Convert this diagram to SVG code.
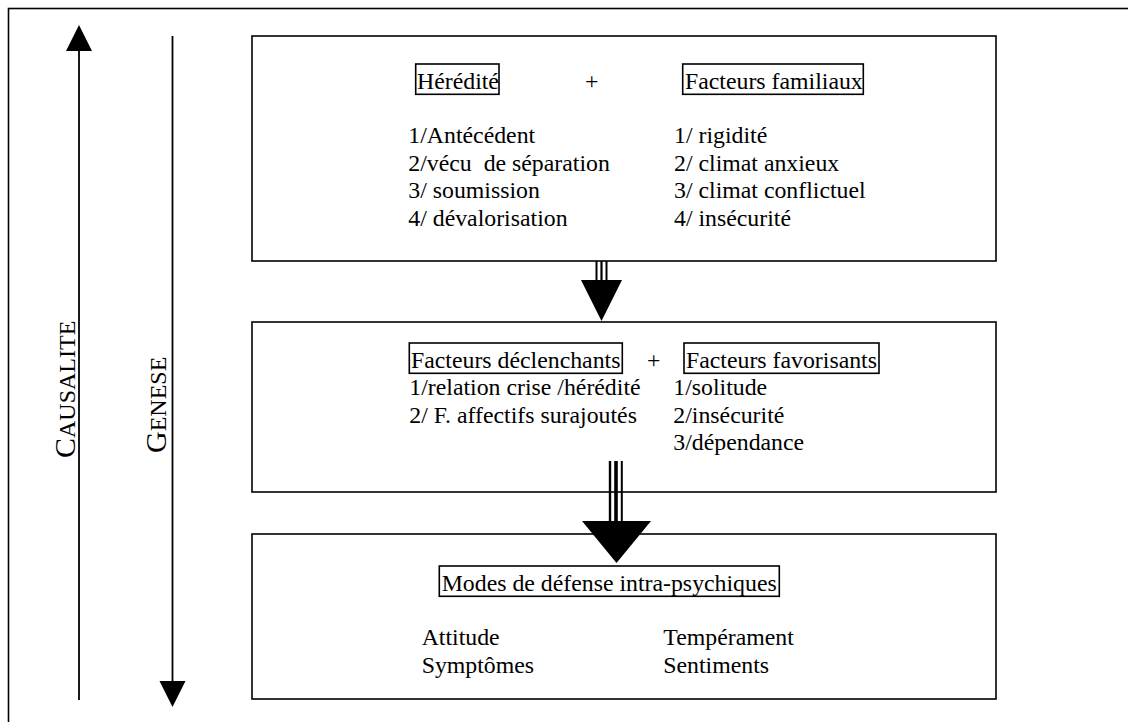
<svg xmlns="http://www.w3.org/2000/svg" width="1128" height="722" viewBox="0 0 1128 722">
<style>
.t{font-family:"Liberation Serif","Times New Roman",serif;font-size:23.8px;fill:#000}
.box{fill:none;stroke:#000;stroke-width:1.6}
.lbl{fill:none;stroke:#000;stroke-width:1.6}
.ln{stroke:#000;stroke-width:1.8;fill:none}
.v{font-family:"Liberation Serif","Times New Roman",serif;fill:#000}
</style>
<rect width="1128" height="722" fill="#fff"/>
<rect x="8.5" y="8.5" width="1130" height="730" class="box"/>

<g id="axes">
<line x1="79" y1="50" x2="79" y2="700" class="ln"/>
<polygon points="66,51 92,51 79,25" fill="#000"/>
<line x1="172.5" y1="36" x2="172.5" y2="682" class="ln"/>
<polygon points="159.5,681 185.5,681 172.5,707" fill="#000"/>
<text class="v" transform="translate(75,458) rotate(-90)"><tspan font-size="30">C</tspan><tspan font-size="24">AUSALITE</tspan></text>
<text class="v" transform="translate(166,453) rotate(-90)"><tspan font-size="30">G</tspan><tspan font-size="24">ENESE</tspan></text>
</g>

<g id="node1">
<rect x="252" y="36" width="744" height="225" class="box"/>
<rect x="415.7" y="64" width="83.3" height="30.3" class="lbl"/>
<text class="t" x="417" y="89.3">Hérédité</text>
<text class="t" x="585" y="89.3">+</text>
<rect x="682.7" y="64" width="180.6" height="30.3" class="lbl"/>
<text class="t" x="685" y="89.3">Facteurs familiaux</text>
<text class="t" x="408.3" y="143.3">1/Antécédent</text>
<text class="t" x="408.3" y="170.8" xml:space="preserve">2/vécu  de séparation</text>
<text class="t" x="408.3" y="198.3">3/ soumission</text>
<text class="t" x="408.3" y="225.8">4/ dévalorisation</text>
<text class="t" x="674" y="143.3">1/ rigidité</text>
<text class="t" x="674" y="170.8">2/ climat anxieux</text>
<text class="t" x="674" y="198.3">3/ climat conflictuel</text>
<text class="t" x="674" y="225.8">4/ insécurité</text>
</g>

<g id="node2">
<rect x="252" y="322" width="744" height="170" class="box"/>
<rect x="409.3" y="343" width="213" height="30.3" class="lbl"/>
<text class="t" x="411" y="368">Facteurs déclenchants</text>
<text class="t" x="647" y="368">+</text>
<rect x="684" y="343" width="195" height="30.3" class="lbl"/>
<text class="t" x="686" y="368">Facteurs favorisants</text>
<text class="t" x="409.3" y="395">1/relation crise /hérédité</text>
<text class="t" x="409.3" y="422.7">2/ F. affectifs surajoutés</text>
<text class="t" x="673.3" y="395">1/solitude</text>
<text class="t" x="673.3" y="422.7">2/insécurité</text>
<text class="t" x="673.3" y="450.3">3/dépendance</text>
</g>

<g id="node3">
<rect x="252" y="534" width="744" height="165" class="box"/>
<rect x="439.3" y="566" width="340" height="30.3" class="lbl"/>
<text class="t" x="441.7" y="591">Modes de défense intra-psychiques</text>
<text class="t" x="421.7" y="645">Attitude</text>
<text class="t" x="421.7" y="672.7">Symptômes</text>
<text class="t" x="663.3" y="645">Tempérament</text>
<text class="t" x="663.3" y="672.7">Sentiments</text>
</g>

<g id="connectors">
<line x1="596.5" y1="261" x2="596.5" y2="281" stroke="#000" stroke-width="2"/>
<line x1="601.5" y1="261" x2="601.5" y2="281" stroke="#000" stroke-width="2.2"/>
<line x1="606.5" y1="261" x2="606.5" y2="281" stroke="#000" stroke-width="2"/>
<polygon points="581,280 622,280 601.5,321" fill="#000"/>
<line x1="610" y1="461" x2="610" y2="522" stroke="#000" stroke-width="2.4"/>
<line x1="616" y1="461" x2="616" y2="522" stroke="#000" stroke-width="3.6"/>
<line x1="621.8" y1="461" x2="621.8" y2="522" stroke="#000" stroke-width="2"/>
<polygon points="582,521 651,521 616.5,563" fill="#000"/>
</g>
</svg>
